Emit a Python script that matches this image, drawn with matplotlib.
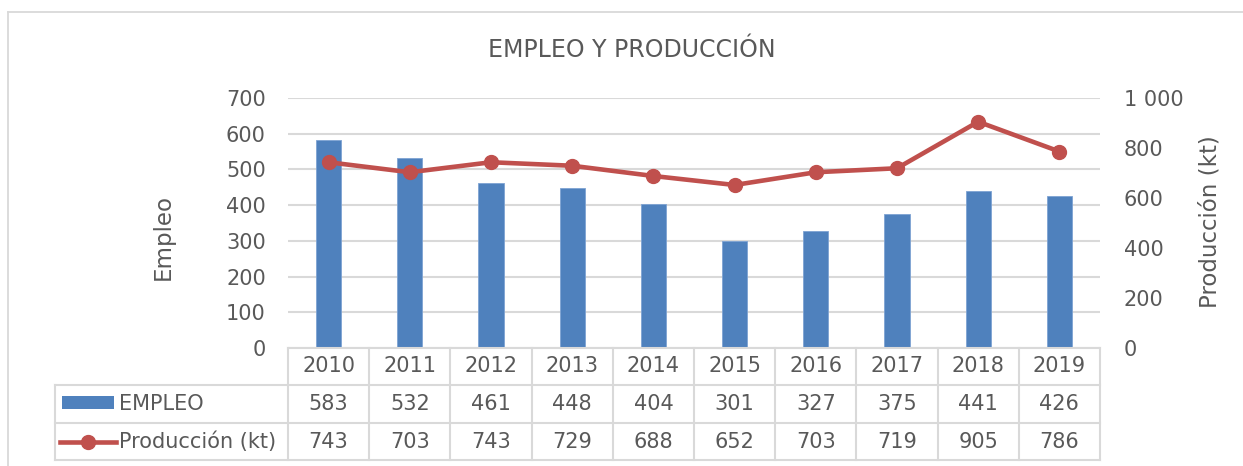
import matplotlib
matplotlib.use("Agg")
import matplotlib.pyplot as plt
from matplotlib.lines import Line2D
from matplotlib.patches import Rectangle
from matplotlib.ticker import FuncFormatter

# Datos
anios = ["2010", "2011", "2012", "2013", "2014", "2015", "2016", "2017", "2018", "2019"]
empleo = [583, 532, 461, 448, 404, 301, 327, 375, 441, 426]
produccion = [743, 703, 743, 729, 688, 652, 703, 719, 905, 786]

# Colores y estilo
azul = "#4f81bd"
rojo = "#c0504d"
gris_texto = "#595959"
gris_linea = "#d9d9d9"
fs = 15

plt.rcParams["font.family"] = ["DejaVu Sans"]

W, H = 1243, 466
fig = plt.figure(figsize=(W / 100, H / 100), dpi=100)

# Área del gráfico en píxeles
x0, x1, y_top, y_bot = 288, 1100, 98, 348
ax = fig.add_axes([x0 / W, (H - y_bot) / H, (x1 - x0) / W, (y_bot - y_top) / H])
ax2 = ax.twinx()

x = list(range(len(anios)))

# Barras de empleo
ax.bar(x, empleo, width=0.31, color=azul, edgecolor="#7ea3d3", linewidth=0.6, zorder=2)
ax.set_xlim(-0.5, len(anios) - 0.5)
ax.set_ylim(0, 700)
ax.set_yticks(range(0, 701, 100))
ax.yaxis.grid(True, color=gris_linea, linewidth=1.5)
ax.set_axisbelow(True)
ax.set_xticks([])
ax.tick_params(axis="y", length=0, pad=16, labelsize=fs, labelcolor=gris_texto)
for s in ax.spines.values():
    s.set_visible(False)

# Línea de producción
ax2.plot(x, produccion, color=rojo, linewidth=3.3, marker="o", markersize=10, zorder=3)
ax2.set_ylim(0, 1000)
ax2.set_yticks(range(0, 1001, 200))
ax2.yaxis.set_major_formatter(FuncFormatter(lambda v, p: f"{int(v):,}".replace(",", " ")))
ax2.tick_params(axis="y", length=0, pad=17, labelsize=fs, labelcolor=gris_texto)
for s in ax2.spines.values():
    s.set_visible(False)

# Títulos
fig.text(632 / W, 1 - 50 / H, "EMPLEO Y PRODUCCIÓN", ha="center", va="center",
         fontsize=17, color=gris_texto)
fig.text(163 / W, 1 - 237 / H, "Empleo", rotation=90, ha="center", va="center",
         fontsize=16.5, color=gris_texto)
fig.text(1210 / W, 1 - 222 / H, "Producción (kt)", rotation=90, ha="center", va="center",
         fontsize=16.5, color=gris_texto)

# Tabla de datos bajo el eje
tr = ax.get_xaxis_transform()
col_w = (x1 - x0) / len(anios)
px = lambda p: -0.5 + (p - x0) / col_w          # píxel -> coordenada x de datos
py = lambda p: -(p - y_bot) / (y_bot - y_top)    # píxel -> coordenada y de ejes
filas = [py(348), py(385), py(423), py(460)]
xl = px(55)
xr = len(anios) - 0.5

lk = dict(color=gris_linea, linewidth=1.5, transform=tr, clip_on=False)
ax.add_line(Line2D([-0.5, xr], [filas[0]] * 2, **lk))
for yy in filas[1:]:
    ax.add_line(Line2D([xl, xr], [yy] * 2, **lk))
for i in range(len(anios) + 1):
    ax.add_line(Line2D([i - 0.5] * 2, [filas[0], filas[3]], **lk))
ax.add_line(Line2D([xl] * 2, [filas[1], filas[3]], **lk))

cen = [(filas[i] + filas[i + 1]) / 2 for i in range(3)]
tk = dict(transform=tr, ha="center", va="center", fontsize=fs, color=gris_texto, clip_on=False)
for i in x:
    ax.text(i, cen[0], anios[i], **tk)
    ax.text(i, cen[1], str(empleo[i]), **tk)
    ax.text(i, cen[2], str(produccion[i]), **tk)

# Leyenda en la tabla
ax.add_patch(Rectangle((px(62), py(409)), px(114) - px(62), py(396) - py(409),
                       facecolor=azul, edgecolor="none", transform=tr, clip_on=False))
ax.add_line(Line2D([px(60), px(116)], [cen[2]] * 2, color=rojo, linewidth=3.3,
                   transform=tr, clip_on=False))
ax.add_line(Line2D([px(88)], [cen[2]], color=rojo, marker="o", markersize=10,
                   transform=tr, clip_on=False))
tl = dict(transform=tr, ha="left", va="center", fontsize=fs, color=gris_texto, clip_on=False)
ax.text(px(119), cen[1], "EMPLEO", **tl)
ax.text(px(119), cen[2], "Producción (kt)", **tl)

# Marco del gráfico
fig.add_artist(Line2D([8 / W, 1], [1 - 12 / H] * 2, color=gris_linea, linewidth=1.3))
fig.add_artist(Line2D([8 / W] * 2, [0, 1 - 12 / H], color=gris_linea, linewidth=1.3))

fig.savefig("out.png", dpi=100)
